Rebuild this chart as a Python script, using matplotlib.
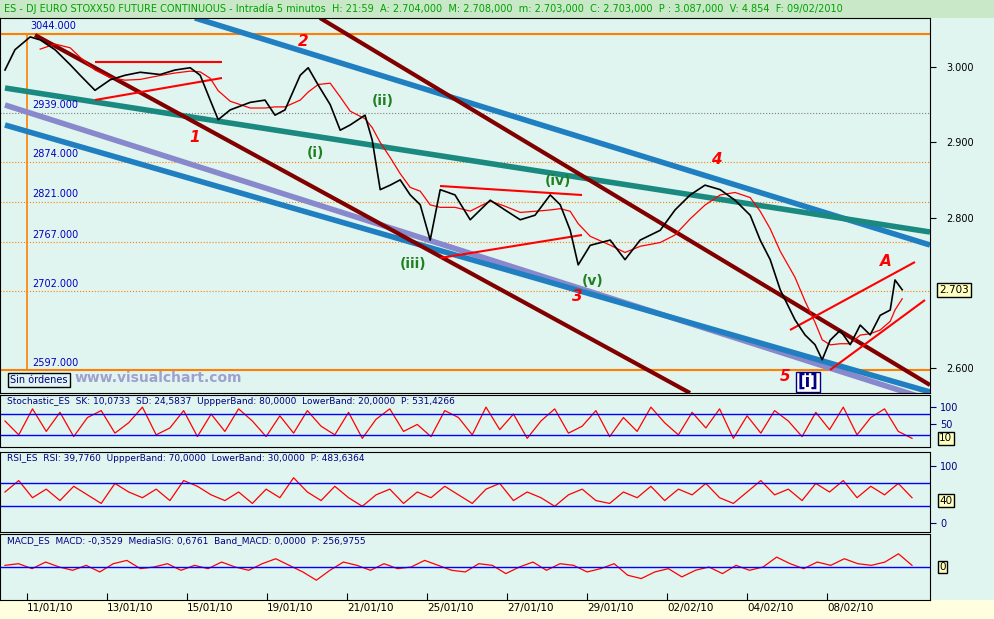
import numpy as np
import matplotlib.pyplot as plt
from matplotlib.patches import Rectangle

W, H = 994, 619
BG = '#e0f4f0'

# price path, x in trading days from 11/01/10
px_x = [-0.55, -0.3, 0.08, 0.33, 0.7, 1.08, 1.33, 1.7, 2.08, 2.45, 2.83, 3.33, 3.7, 4.08, 4.33,
        4.58, 4.78, 5.08, 5.58, 5.95, 6.2, 6.45, 6.83, 7.03, 7.28, 7.58, 7.83, 8.08, 8.45, 8.63,
        8.83, 9.08, 9.33, 9.58, 9.83, 10.08, 10.33, 10.7, 11.08, 11.58, 11.95, 12.33, 12.7, 13.08,
        13.33, 13.58, 13.78, 14.08, 14.58, 14.95, 15.33, 15.83, 16.2, 16.58, 16.95, 17.33, 17.7,
        18.08, 18.33, 18.58, 18.83, 19.2, 19.45, 19.7, 19.88, 20.08, 20.33, 20.58, 20.83, 21.08,
        21.33, 21.58, 21.7, 21.88]
price = [2.996, 3.023, 3.040, 3.036, 3.023, 3.003, 2.989, 2.969, 2.983, 2.989, 2.993, 2.990, 2.996,
         2.999, 2.989, 2.956, 2.930, 2.943, 2.953, 2.956, 2.936, 2.943, 2.989, 2.999, 2.976, 2.950,
         2.916, 2.923, 2.936, 2.903, 2.837, 2.843, 2.850, 2.830, 2.817, 2.770, 2.837, 2.830, 2.797,
         2.823, 2.810, 2.797, 2.803, 2.830, 2.817, 2.783, 2.737, 2.763, 2.770, 2.744, 2.770, 2.783,
         2.810, 2.830, 2.843, 2.837, 2.823, 2.803, 2.770, 2.744, 2.704, 2.664, 2.644, 2.631, 2.611,
         2.637, 2.650, 2.631, 2.657, 2.644, 2.670, 2.677, 2.717, 2.704]

levels = [2.939, 2.874, 2.821, 2.767, 2.702]
level_labels = ['2939.000', '2874.000', '2821.000', '2767.000', '2702.000']
top_level, low_level = 3.044, 2.597

date_pos = [0, 2, 4, 6, 8, 10, 12, 14, 16, 18, 20]
date_labels = ['11/01/10', '13/01/10', '15/01/10', '19/01/10', '21/01/10', '25/01/10',
               '27/01/10', '29/01/10', '02/02/10', '04/02/10', '08/02/10']

stoch = [60, 20, 95, 30, 85, 15, 70, 90, 25, 55, 100, 20, 40, 90, 15, 80, 30, 95, 60, 15, 75,
         25, 90, 45, 20, 85, 10, 65, 95, 30, 50, 15, 90, 70, 20, 100, 35, 80, 10, 60, 95, 25, 45,
         90, 15, 70, 30, 100, 55, 20, 85, 40, 95, 10, 75, 25, 90, 60, 15, 85, 35, 100, 20, 70,
         95, 30, 10]
rsi = [55, 75, 45, 60, 40, 65, 50, 35, 70, 55, 45, 60, 40, 75, 65, 50, 40, 55, 35, 60, 45,
       80, 55, 40, 65, 45, 30, 50, 60, 35, 55, 45, 65, 50, 35, 60, 70, 40, 55, 45, 30, 50, 60,
       40, 35, 55, 45, 65, 40, 60, 50, 70, 45, 35, 55, 75, 50, 60, 40, 70, 55, 75, 45, 65, 50,
       70, 45]
macd = [1, 2, -1, 3, 0, -2, 1, -3, 2, 4, -1, 0, 2, -2, 1, -1, 3, 0, -2, 2, 5, 1, -3, -8, -2,
        3, 1, -2, 2, -1, 0, 4, 1, -2, -3, 2, 1, -4, 0, 3, -2, 2, 1, -3, -1, 2, -5, -7, -3,
        -1, -6, -2, 0, -4, 1, -2, 0, 6, 2, -1, 3, 1, 5, 2, 1, 3, 8, 1]


def ax_at(x0, y0, x1, y1):
    return fig.add_axes([x0 / W, 1 - y1 / H, (x1 - x0) / W, (y1 - y0) / H])


def price_of(y):
    return 3.0 - (y - 67) / 752.5


def day_of(x):
    return (x - 27) / 40.0


fig = plt.figure(figsize=(W / 100, H / 100), dpi=100)
fig.patch.set_facecolor(BG)
fig.patches.append(Rectangle((0, 1 - 18 / H), 1, 18 / H, transform=fig.transFigure,
                             facecolor='#c8e8c8', zorder=-5))
fig.patches.append(Rectangle((0, 0), 1, 19 / H, transform=fig.transFigure,
                             facecolor='#ffffe0', zorder=-5))
fig.text(4 / W, 1 - 9 / H,
         'ES - DJ EURO STOXX50 FUTURE CONTINUOUS - Intradía 5 minutos  H: 21:59  A: 2.704,000  '
         'M: 2.708,000  m: 2.703,000  C: 2.703,000  P : 3.087,000  V: 4.854  F: 09/02/2010',
         fontsize=7, color='#00a000', va='center')

xlim = (day_of(0), day_of(930))

# main price panel
ax = ax_at(0, 18, 930, 393)
ax.set_facecolor(BG)
ax.set_xlim(*xlim)
ax.set_ylim(price_of(393), price_of(18))
ax.yaxis.tick_right()
ax.set_yticks([3.0, 2.9, 2.8, 2.6])
ax.set_yticklabels(['3.000', '2.900', '2.800', '2.600'], fontsize=7)
ax.set_xticks([])
ax.tick_params(axis='y', direction='out', length=4, pad=8)

ax.axhline(top_level, color='#ff8000', lw=1.5)
ax.axhline(low_level, color='#ff8000', lw=1.5)
for lv, lb in zip(levels, level_labels):
    ax.axhline(lv, color='#ff8000' if lv != 2.939 else 'gray', lw=0.8, ls=':')
    ax.text(day_of(32), lv + 0.006, lb, fontsize=7, color='#0000c0')
ax.text(day_of(30), top_level + 0.006, '3044.000', fontsize=7, color='#0000c0')
ax.text(day_of(32), low_level + 0.006, '2597.000', fontsize=7, color='#0000c0')
ax.plot([0, 0], [top_level, low_level], color='#ff8000', lw=1.2)


def seg(x0, y0, x1, y1, color, lw):
    ax.plot([day_of(x0), day_of(x1)], [price_of(y0), price_of(y1)], color=color, lw=lw,
            solid_capstyle='butt')


seg(195, 18, 930, 245, '#1f7fc0', 4)
seg(5, 105, 930, 400, '#8888cc', 4)
seg(5, 125, 930, 392, '#1f7fc0', 4)
seg(5, 88, 930, 232, '#1a8a80', 4)
seg(35, 35, 690, 393, '#800000', 3)
seg(320, 18, 930, 385, '#800000', 3)
seg(95, 62, 222, 62, 'red', 1.5)
seg(95, 100, 222, 78, 'red', 1.5)
seg(440, 186, 582, 195, 'red', 1.5)
seg(440, 258, 582, 235, 'red', 1.5)
seg(790, 330, 915, 262, 'red', 1.5)
seg(830, 370, 925, 300, 'red', 1.5)

ma = np.convolve(price, np.ones(4) / 4, mode='valid')
ax.plot(px_x[3:], ma, color='red', lw=0.9)
ax.plot(px_x, price, color='black', lw=1.2)

for t, x, y in [('2', 303, 42), ('1', 195, 138), ('4', 716, 160), ('3', 577, 297),
                ('5', 785, 377), ('A', 886, 262)]:
    ax.text(day_of(x), price_of(y), t, color='red', fontsize=11, fontweight='bold',
            style='italic', ha='center', va='center')
for t, x, y in [('(i)', 315, 153), ('(ii)', 383, 101), ('(iii)', 413, 264), ('(iv)', 558, 181),
                ('(v)', 593, 281)]:
    ax.text(day_of(x), price_of(y), t, color='#208020', fontsize=10, fontweight='bold',
            ha='center', va='center')
ax.text(day_of(808), price_of(382), '[i]', color='#000080', fontsize=12, fontweight='bold',
        ha='center', va='center', bbox=dict(facecolor='white', edgecolor='#000080', pad=1))
ax.text(day_of(75), price_of(378), 'www.visualchart.com', color='#a0a0d0', fontsize=10,
        fontweight='bold', va='center')
ax.text(day_of(10), price_of(380), 'Sin órdenes', color='#000080', fontsize=7, va='center',
        bbox=dict(facecolor='#e0f4f0', edgecolor='black', pad=1.5))
ax.text(1.01, price_of(290), '2.703', transform=ax.get_yaxis_transform(), fontsize=7.5,
        va='center', bbox=dict(facecolor='#ffffc0', edgecolor='black', pad=1.5))


def osc_panel(y0, y1, values, lo, hi, lines, ticks, title, box):
    a = ax_at(0, y0, 930, y1)
    a.set_facecolor(BG)
    a.set_xlim(*xlim)
    xs = np.linspace(day_of(5), day_of(912), len(values))
    a.plot(xs, values, color='red', lw=0.9)
    for lv in lines:
        a.axhline(lv, color='blue', lw=1)
    a.set_ylim(lo, hi)
    a.yaxis.tick_right()
    a.set_yticks(ticks)
    a.tick_params(axis='y', labelsize=7, colors='#000080', direction='out', length=4)
    a.set_xticks([])
    a.text(0.008, 0.97, title, transform=a.transAxes, fontsize=6.5, color='#000080', va='top')
    a.text(1.01, box[0], box[1], transform=a.get_yaxis_transform(), fontsize=7.5, va='center',
           bbox=dict(facecolor='#ffffc0', edgecolor='black', pad=1))
    return a


osc_panel(395, 447, stoch, -15, 135, [80, 20], [50, 100],
          'Stochastic_ES  SK: 10,0733  SD: 24,5837  UppperBand: 80,0000  LowerBand: 20,0000  P: 531,4266',
          (10, '10'))
osc_panel(452, 532, rsi, -15, 125, [70, 30], [0, 100],
          'RSI_ES  RSI: 39,7760  UppperBand: 70,0000  LowerBand: 30,0000  P: 483,6364',
          (40, '40'))
am = osc_panel(534, 600, macd, -20, 20, [0], [],
               'MACD_ES  MACD: -0,3529  MediaSIG: 0,6761  Band_MACD: 0,0000  P: 256,9755',
               (0, '0'))
am.set_xticks(date_pos)
am.set_xticklabels(date_labels, fontsize=7.5)
am.tick_params(axis='x', direction='in', length=5, pad=2)
for lb in am.get_xticklabels():
    lb.set_horizontalalignment('left')

fig.savefig('out.png', dpi=100, facecolor=fig.get_facecolor())
